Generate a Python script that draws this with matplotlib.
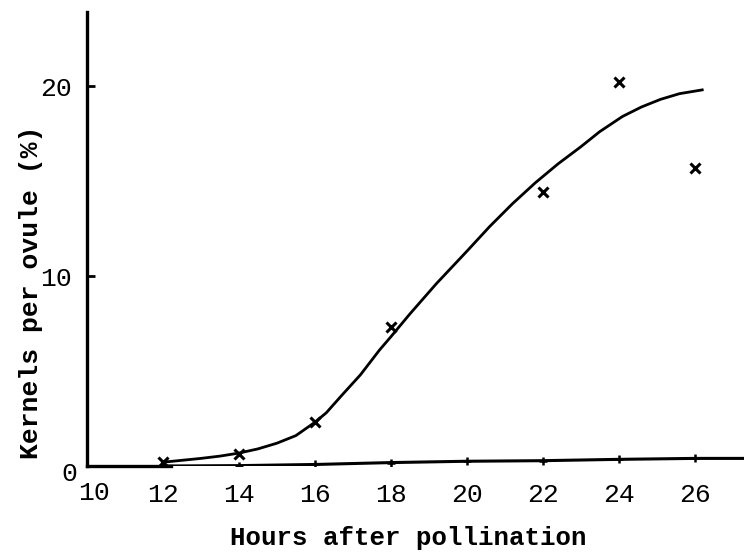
import matplotlib
matplotlib.use("Agg")
import matplotlib.pyplot as plt

# observed kernels per ovule (%) at each sampling time
hours = [12, 14, 16, 18, 22, 24, 26]
kernels = [0.2, 0.65, 2.3, 7.3, 14.4, 20.2, 15.7]

# hand-fitted curve
curve_hours = [12.0, 12.5, 13.0, 13.5, 14.0, 14.5, 15.0, 15.5, 16.0, 16.3, 16.7,
               17.2, 17.7, 18.0, 18.5, 19.2, 20.0, 20.6, 21.2, 21.8, 22.4, 23.0,
               23.5, 24.1, 24.6, 25.1, 25.6, 26.2]
curve_kernels = [0.2, 0.3, 0.4, 0.52, 0.68, 0.9, 1.2, 1.6, 2.3, 2.8, 3.7,
                 4.8, 6.1, 6.8, 8.0, 9.6, 11.3, 12.6, 13.8, 14.9, 15.9, 16.8,
                 17.6, 18.4, 18.9, 19.3, 19.6, 19.8]

# near-zero line along the axis (with small tick marks at each even hour)
control_hours = [12, 14, 16, 18, 20, 22, 24, 26, 27.3]
control_kernels = [0.0, 0.02, 0.08, 0.18, 0.25, 0.28, 0.35, 0.4, 0.4]

x_ticks = [12, 14, 16, 18, 20, 22, 24, 26]
y_ticks = [10, 20]

font = "Liberation Mono"

fig = plt.figure(figsize=(7.44, 5.55), dpi=100)
ax = fig.add_axes([87 / 744, 1 - 466 / 555, (744 - 87) / 744, (466 - 12) / 555])

ax.plot(curve_hours, curve_kernels, color="black", lw=2)
ax.plot(hours, kernels, "x", color="black", ms=7, mew=2.2)
ax.plot(control_hours, control_kernels, color="black", lw=2.2,
        marker="+", ms=6, mew=1.8, markevery=list(range(8)))

ax.set_xlim(10, 27.3)
ax.set_ylim(0, 23.9)

for side in ["top", "right"]:
    ax.spines[side].set_visible(False)
ax.spines["left"].set_linewidth(2.4)
ax.spines["bottom"].set_linewidth(2.4)
ax.spines["bottom"].set_bounds(10, 12.2)

ax.set_xticks(x_ticks)
ax.set_xticklabels([str(t) for t in x_ticks], fontsize=19, family=font)
ax.set_yticks(y_ticks)
ax.set_yticklabels([str(t) for t in y_ticks], fontsize=19, family=font)
ax.tick_params(axis="x", length=0, pad=12)
ax.tick_params(axis="y", direction="in", length=6, width=2, pad=11)

# corner labels: the "0" of the y axis and the "10" of the x axis
ax.annotate("0", xy=(10, 0), xytext=(-18, -8), textcoords="offset pixels",
            fontsize=19, family=font, ha="center", va="center")
ax.annotate("10", xy=(10, 0), xytext=(7, -27), textcoords="offset pixels",
            fontsize=19, family=font, ha="center", va="center")

fig.text(31 / 744, 1 - 292 / 555, "Kernels per ovule (%)", rotation=90,
         fontsize=19, family=font, weight="bold", ha="center", va="center")
fig.text(408 / 744, 1 - 538 / 555, "Hours after pollination",
         fontsize=18.5, family=font, weight="bold", ha="center", va="center")

fig.savefig("out.png", dpi=100)
